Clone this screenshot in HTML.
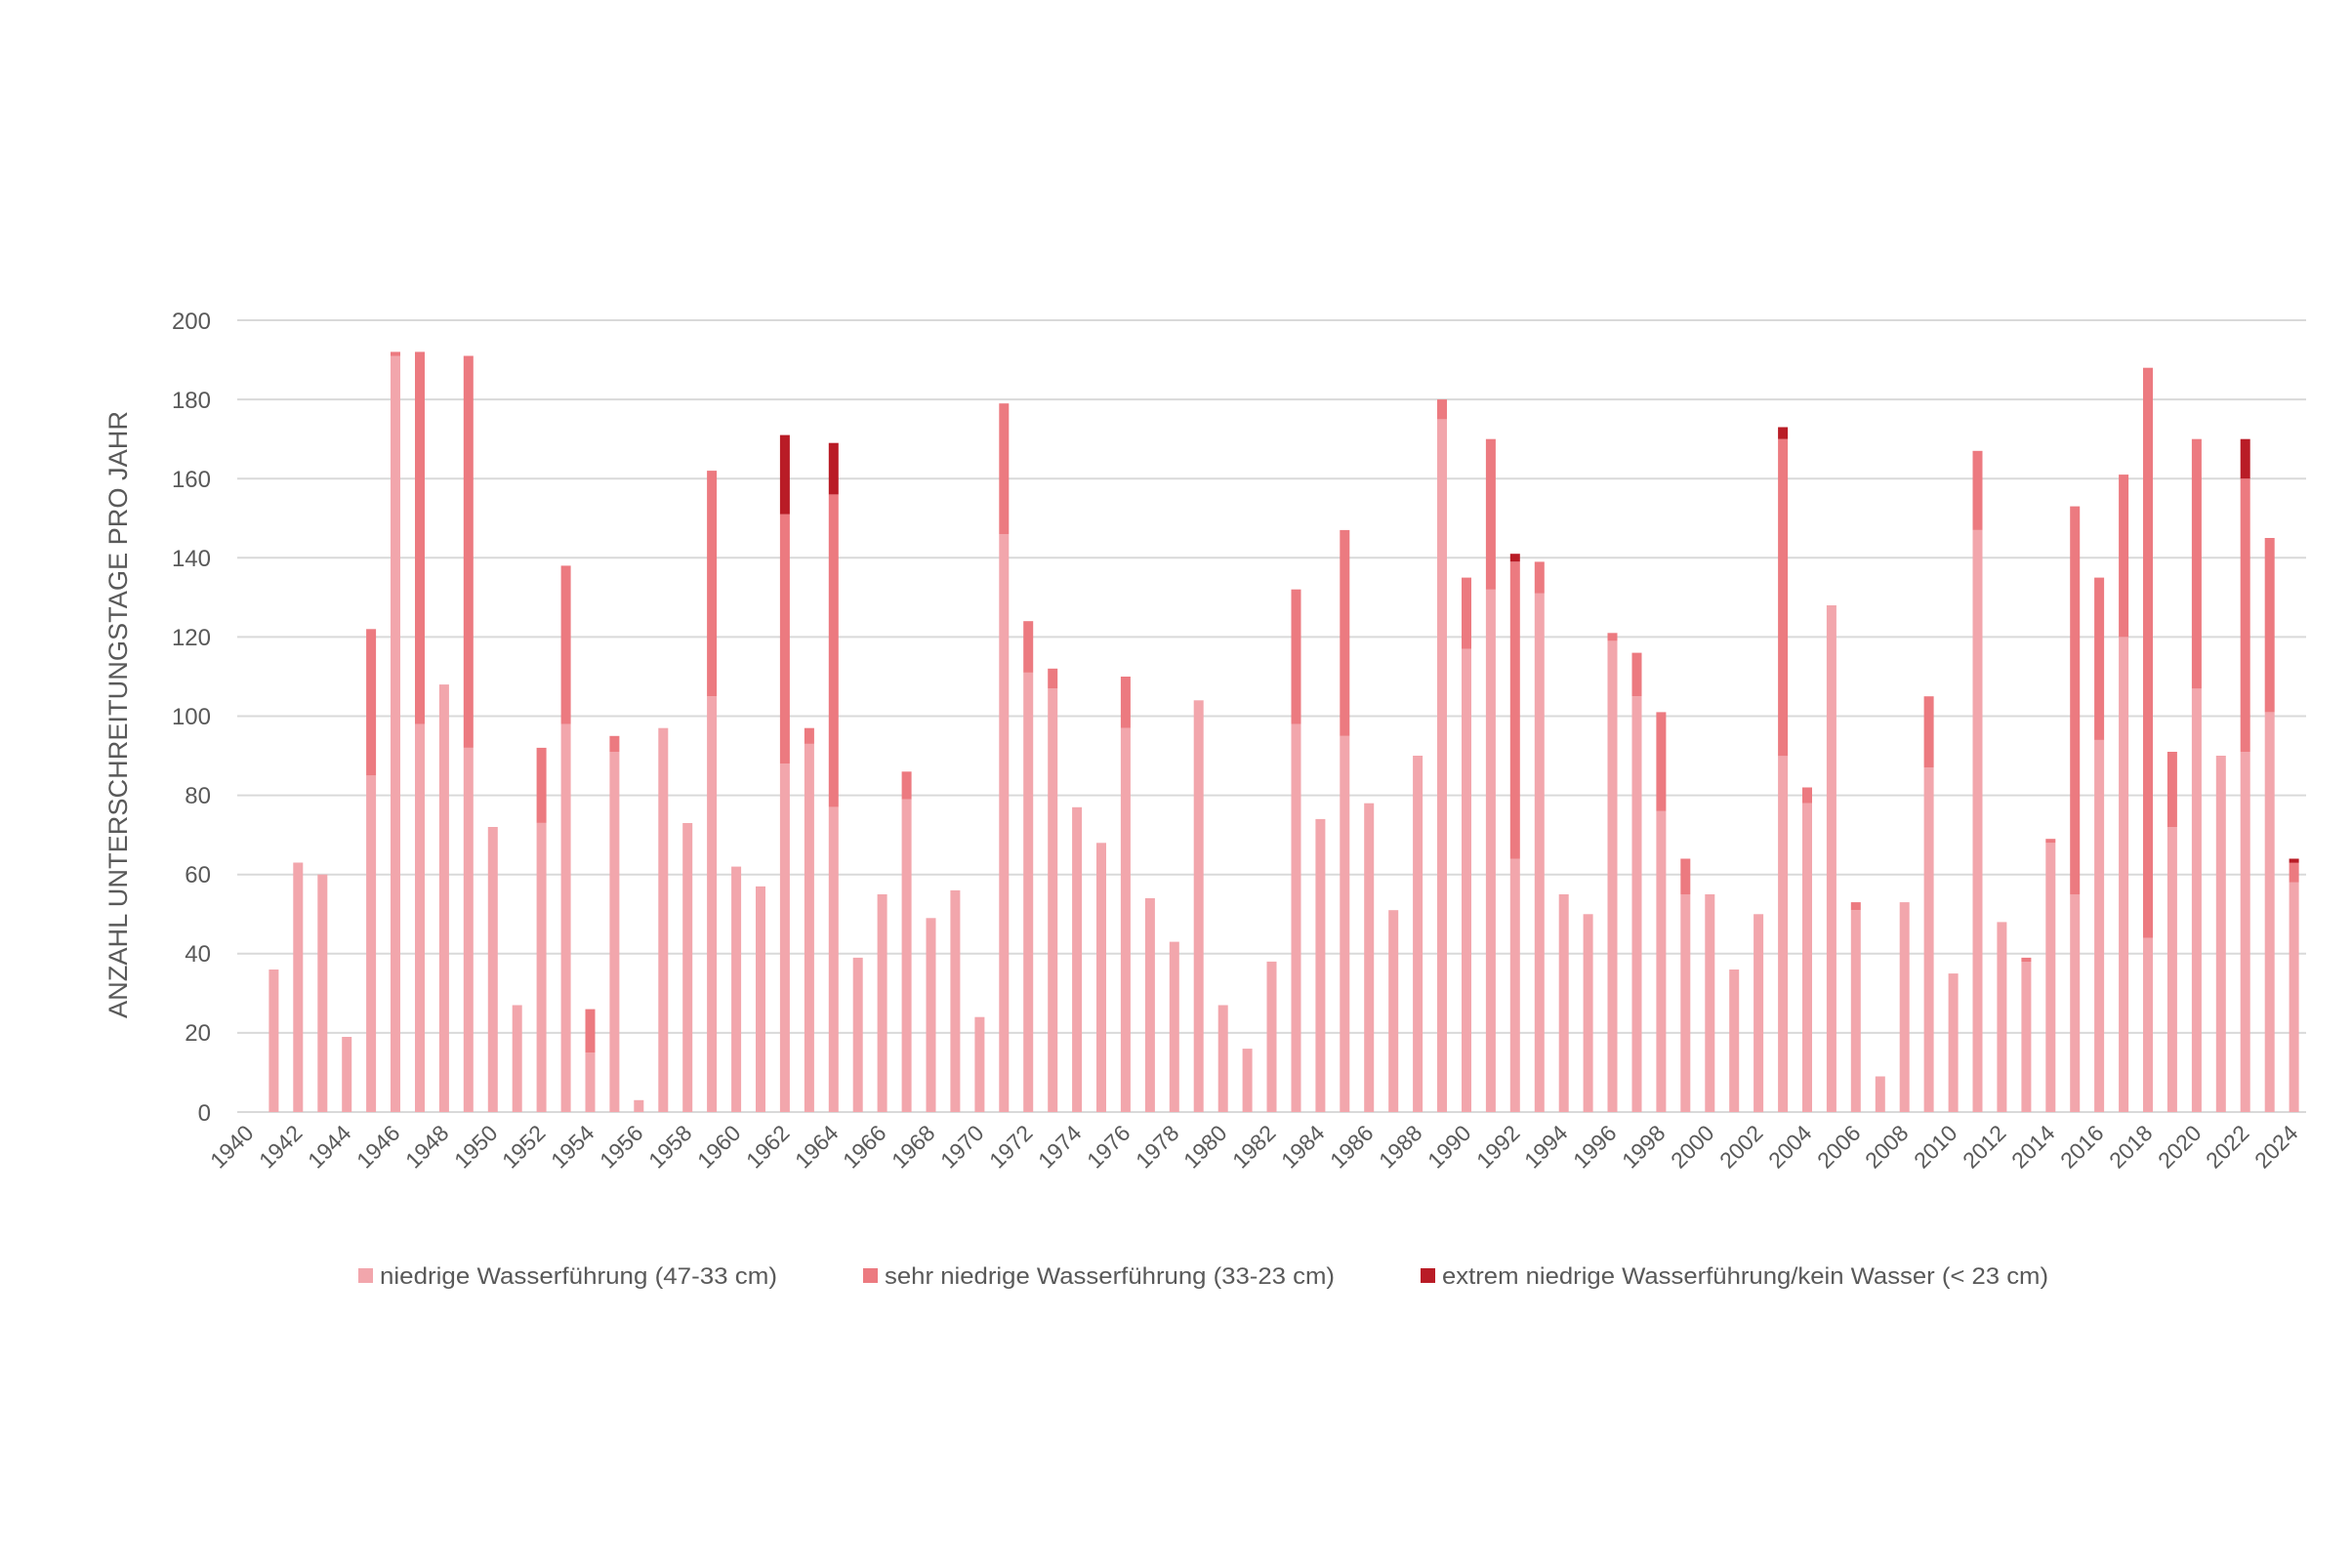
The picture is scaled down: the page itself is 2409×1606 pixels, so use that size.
<!DOCTYPE html>
<html><head><meta charset="utf-8"><style>
html,body{margin:0;padding:0;background:#fff;}
svg{display:block;font-family:"Liberation Sans",sans-serif;}
</style></head><body>
<svg id="c" width="2409" height="1606" viewBox="0 0 2409 1606" xmlns="http://www.w3.org/2000/svg">
<g stroke="#d9d9d9" stroke-width="2">
<line x1="243" x2="2362" y1="328" y2="328"/><line x1="243" x2="2362" y1="409.1" y2="409.1"/>
<line x1="243" x2="2362" y1="490.2" y2="490.2"/><line x1="243" x2="2362" y1="571.3" y2="571.3"/>
<line x1="243" x2="2362" y1="652.4" y2="652.4"/><line x1="243" x2="2362" y1="733.5" y2="733.5"/>
<line x1="243" x2="2362" y1="814.6" y2="814.6"/><line x1="243" x2="2362" y1="895.7" y2="895.7"/>
<line x1="243" x2="2362" y1="976.8" y2="976.8"/><line x1="243" x2="2362" y1="1057.9" y2="1057.9"/>
<line x1="243" x2="2362" y1="1139" y2="1139"/>
</g>
<g id="bars"></g>
<g fill="#595959" font-size="24" text-anchor="end">
<text x="216" y="337">200</text><text x="216" y="418">180</text><text x="216" y="499">160</text>
<text x="216" y="580">140</text><text x="216" y="661">120</text><text x="216" y="742">100</text>
<text x="216" y="823">80</text><text x="216" y="904">60</text><text x="216" y="985">40</text>
<text x="216" y="1066">20</text><text x="216" y="1148">0</text>
</g>
<text transform="translate(130,732) rotate(-90)" text-anchor="middle" fill="#595959" font-size="27" textLength="622" lengthAdjust="spacingAndGlyphs">ANZAHL UNTERSCHREITUNGSTAGE PRO JAHR</text>
<g fill="#595959" font-size="23" text-anchor="end" id="xl">
<text transform="translate(261,1162) rotate(-45)">1940</text>
<text transform="translate(311,1162) rotate(-45)">1942</text>
<text transform="translate(361,1162) rotate(-45)">1944</text>
<text transform="translate(411,1162) rotate(-45)">1946</text>
<text transform="translate(461,1162) rotate(-45)">1948</text>
<text transform="translate(511,1162) rotate(-45)">1950</text>
<text transform="translate(560,1162) rotate(-45)">1952</text>
<text transform="translate(610,1162) rotate(-45)">1954</text>
<text transform="translate(660,1162) rotate(-45)">1956</text>
<text transform="translate(710,1162) rotate(-45)">1958</text>
<text transform="translate(760,1162) rotate(-45)">1960</text>
<text transform="translate(810,1162) rotate(-45)">1962</text>
<text transform="translate(860,1162) rotate(-45)">1964</text>
<text transform="translate(909,1162) rotate(-45)">1966</text>
<text transform="translate(959,1162) rotate(-45)">1968</text>
<text transform="translate(1009,1162) rotate(-45)">1970</text>
<text transform="translate(1059,1162) rotate(-45)">1972</text>
<text transform="translate(1109,1162) rotate(-45)">1974</text>
<text transform="translate(1159,1162) rotate(-45)">1976</text>
<text transform="translate(1209,1162) rotate(-45)">1978</text>
<text transform="translate(1258,1162) rotate(-45)">1980</text>
<text transform="translate(1308,1162) rotate(-45)">1982</text>
<text transform="translate(1358,1162) rotate(-45)">1984</text>
<text transform="translate(1408,1162) rotate(-45)">1986</text>
<text transform="translate(1458,1162) rotate(-45)">1988</text>
<text transform="translate(1508,1162) rotate(-45)">1990</text>
<text transform="translate(1558,1162) rotate(-45)">1992</text>
<text transform="translate(1607,1162) rotate(-45)">1994</text>
<text transform="translate(1657,1162) rotate(-45)">1996</text>
<text transform="translate(1707,1162) rotate(-45)">1998</text>
<text transform="translate(1757,1162) rotate(-45)">2000</text>
<text transform="translate(1807,1162) rotate(-45)">2002</text>
<text transform="translate(1857,1162) rotate(-45)">2004</text>
<text transform="translate(1907,1162) rotate(-45)">2006</text>
<text transform="translate(1956,1162) rotate(-45)">2008</text>
<text transform="translate(2006,1162) rotate(-45)">2010</text>
<text transform="translate(2056,1162) rotate(-45)">2012</text>
<text transform="translate(2106,1162) rotate(-45)">2014</text>
<text transform="translate(2156,1162) rotate(-45)">2016</text>
<text transform="translate(2206,1162) rotate(-45)">2018</text>
<text transform="translate(2256,1162) rotate(-45)">2020</text>
<text transform="translate(2305,1162) rotate(-45)">2022</text>
<text transform="translate(2355,1162) rotate(-45)">2024</text>
</g>
<g font-size="24" fill="#595959">
<rect x="367" y="1299" width="15" height="15" fill="#f2a6ac"/>
<text x="389" y="1315" textLength="407" lengthAdjust="spacingAndGlyphs">niedrige Wasserführung (47-33 cm)</text>
<rect x="884" y="1299" width="15" height="15" fill="#ec7a80"/>
<text x="906" y="1315" textLength="461" lengthAdjust="spacingAndGlyphs">sehr niedrige Wasserführung (33-23 cm)</text>
<rect x="1455" y="1299" width="15" height="15" fill="#b91c26"/>
<text x="1477" y="1315" textLength="621" lengthAdjust="spacingAndGlyphs">extrem niedrige Wasserführung/kein Wasser (&lt; 23 cm)</text>
</g>
</svg>
<script>
var d=[[0],[36],[63],[60],[19],[85,37],[191,1],[98,94],[108],[92,99],[72],[27],[73,19],[98,40],[15,11],[91,4],[3],[97],[73],[105,57],[62],[57],[88,63,20],[93,4],[77,79,13],[39],[55],[79,7],[49],[56],[24],[146,33],[111,13],[107,5],[77],[68],[97,13],[54],[43],[104],[27],[16],[38],[98,34],[74],[95,52],[78],[51],[90],[175,5],[117,18],[132,38],[64,75,2],[131,8],[55],[50],[119,2],[105,11],[76,25],[55,9],[55],[36],[50],[90,80,3],[78,4],[128],[51,2],[9],[53],[87,18],[35],[147,20],[48],[38,1],[68,1],[55,98],[94,41],[120,41],[44,144],[72,19],[107,63],[90],[91,69,10],[101,44],[58,5,1]];
var cols=["#f2a6ac","#ec7a80","#b91c26"],g=document.getElementById("bars"),s="",k=811/200;
d.forEach(function(v,i){var cx=243+24.93*(i+0.5),acc=0;v.forEach(function(val,j){if(!val)return;var y1=1139-acc*k,y2=1139-(acc+val)*k;s+='<rect x="'+(cx-5).toFixed(1)+'" y="'+y2.toFixed(1)+'" width="10" height="'+(y1-y2).toFixed(1)+'" fill="'+cols[j]+'"/>';acc+=val;});});
g.innerHTML=s;
</script>
</body></html>
